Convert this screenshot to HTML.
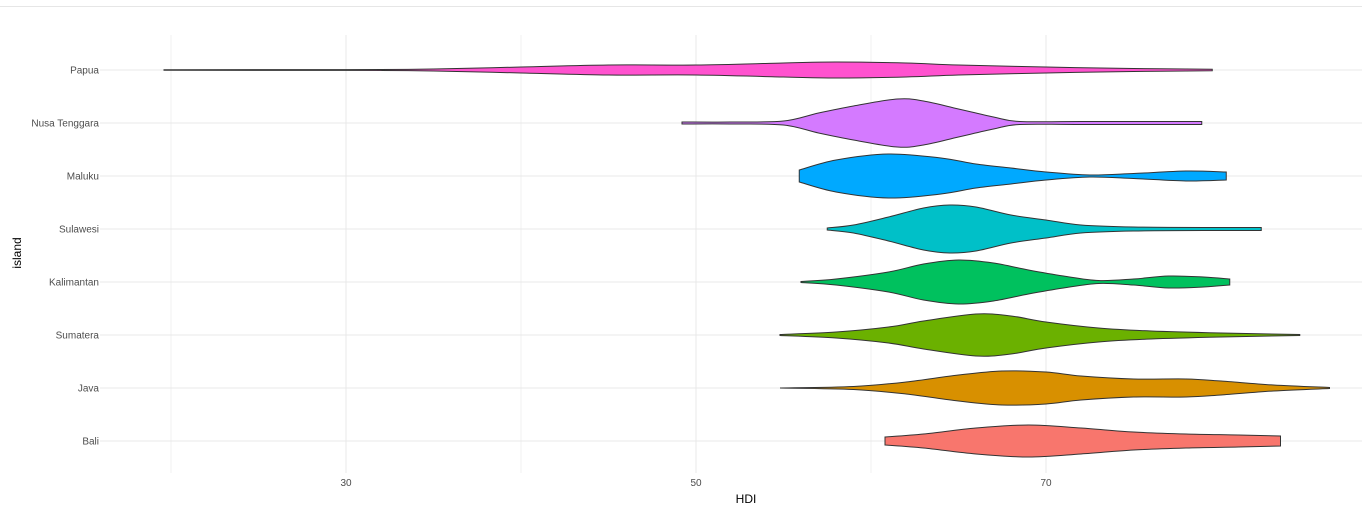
<!DOCTYPE html>
<html><head><meta charset="utf-8">
<style>
html,body{margin:0;padding:0;background:#fff;}
svg{display:block;font-family:"Liberation Sans",sans-serif;}
</style></head>
<body>
<svg id="chart" width="1362" height="518">
<line x1="0" y1="6.5" x2="1362" y2="6.5" stroke="#e6e6e6"/>
<g id="grid"></g>
<g id="violins"></g>
<g id="labels"></g>
<text x="746" y="503" font-size="12" text-anchor="middle" fill="#000">HDI</text>
<text transform="translate(21,253) rotate(-90)" font-size="12" text-anchor="middle" fill="#000">island</text>
</svg>
<script>
const islands = ["Bali","Java","Sumatera","Kalimantan","Sulawesi","Maluku","Nusa Tenggara","Papua"];
const colors = ["#F8766D","#D89000","#6BB100","#00C15E","#00C0C8","#00A9FF","#D47AFF","#FF52CF"];
const xTicks = [30,50,70];
const xMinor = [20,40,60];
// density profiles: [HDI, half-width in px]
const profBali = [[60.8,4],[63,7],[66,13],[69,16],[72,13],[75,9],[78,7],[81,6],[83.4,5]];
const profJava = [[54.8,0],[59,1.5],[62,6],[65,13],[67.5,17],[70,16],[72,12],[75,9],[78,9],[80,7],[83,3],[86.2,0.5]];
const profSumatera = [[54.8,0.5],[58,3],[61,8],[63,14],[66,21],[68,19],[70,13],[73,7],[76,4],[80,2],[84.5,0.5]];
const profKalimantan = [[56,0.5],[58,3],[61,10],[63,18],[65,22],[67,19],[69,12],[71,6],[73,1.5],[75,3],[77,6],[79,5],[80.5,3]];
const profSulawesi = [[57.5,1],[59,4],[61,12],[63,21],[64.5,24],[66,22],[68,14],[70,9],[72,4],[75,2],[80,1.5],[82.3,1.5]];
const profMaluku = [[55.9,6],[58,16],[61,22],[64,18],[66,12],[68,8],[70,4],[72.5,1],[75,2.5],[78,5],[80.3,4]];
const profNT = [[49.2,1],[52,1],[55,2],[57,10],[59,17],[61.5,24],[63,22],[65,14],[67,6],[68.5,1.5],[72,1.5],[78.9,1.5]];
const profPapua = [[19.6,0.3],[30,0.4],[35,1],[40,3],[45,5],[50,5],[55,7],[58,8],[62,7],[65,5],[70,3],[75,1.5],[79.5,0.8]];
const profiles = [profBali,profJava,profSumatera,profKalimantan,profSulawesi,profMaluku,profNT,profPapua];

const X = v => 346 + (v-30)*17.5;
const Y = i => 441 - i*53;
const NS="http://www.w3.org/2000/svg";
const grid=document.getElementById('grid'), vg=document.getElementById('violins'), lg=document.getElementById('labels');
function mk(tag,attrs,parent){const e=document.createElementNS(NS,tag);for(const k in attrs)e.setAttribute(k,attrs[k]);parent.appendChild(e);return e;}
xMinor.forEach(v=>{const l=mk('line',{x1:X(v),x2:X(v),y1:35,y2:473,stroke:'#f2f2f2','stroke-width':1},grid);

});
xTicks.forEach(v=>{const l=mk('line',{x1:X(v),x2:X(v),y1:35,y2:473,stroke:'#e8e8e8','stroke-width':1},grid);


const t=mk('text',{x:X(v),y:486,'font-size':10,'text-anchor':'middle',fill:'#4d4d4d'},lg);t.textContent=v;

});
islands.forEach((n,i)=>{const l=mk('line',{x1:100,x2:1362,y1:Y(i),y2:Y(i),stroke:'#e8e8e8','stroke-width':1},grid);


const t=mk('text',{x:99,y:Y(i)+3.5,'font-size':10,'text-anchor':'end',fill:'#4d4d4d'},lg);t.textContent=n;

});
function smooth(pts){let d='';for(let i=0;i<pts.length;i++){const p=pts[i];
 if(i===0){d+='M'+p[0]+','+p[1];continue;}
 const p0=pts[Math.max(0,i-2)],p1=pts[i-1],p3=pts[Math.min(pts.length-1,i+1)];
 const c1=[p1[0]+(p[0]-p0[0])/6,p1[1]+(p[1]-p0[1])/6],c2=[p[0]-(p3[0]-p1[0])/6,p[1]-(p3[1]-p1[1])/6];
 d+='C'+c1[0]+','+c1[1]+' '+c2[0]+','+c2[1]+' '+p[0]+','+p[1];}return d;}
profiles.forEach((pr,i)=>{const cy=Y(i);
 const top=pr.map(p=>[X(p[0]),cy-p[1]]);const bot=pr.slice().reverse().map(p=>[X(p[0]),cy+p[1]]);
 let d=smooth(top);const b=smooth(bot);d+='L'+b.slice(1)+'Z';
 const e=mk('path',{d:d,fill:colors[i],stroke:'#333','stroke-width':1},vg);
 
 });
</script>
</body></html>
